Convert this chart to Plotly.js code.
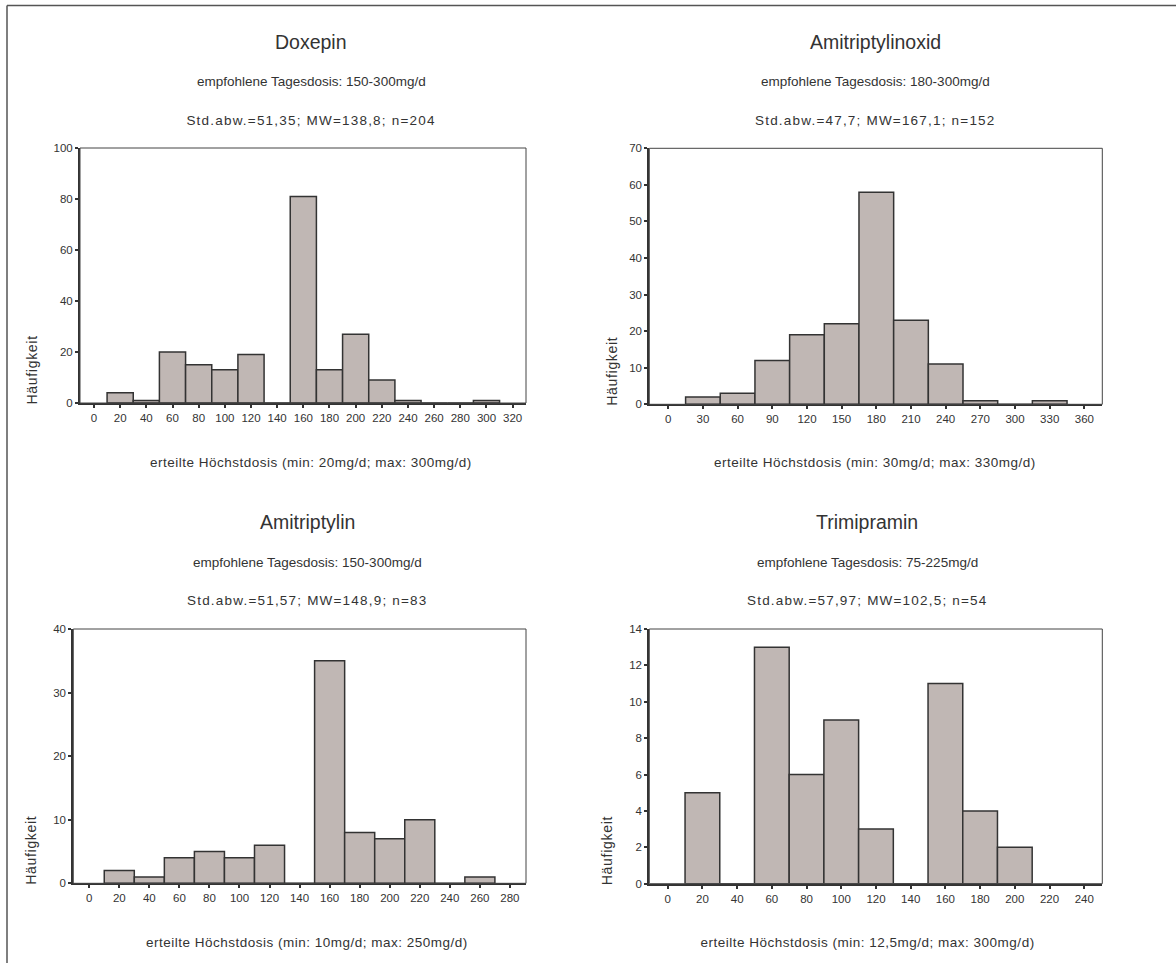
<!DOCTYPE html>
<html><head><meta charset="utf-8">
<script src="https://cdn.plot.ly/plotly-3.0.1.min.js"></script>
<style>html,body{margin:0;padding:0;background:#fff}#chart{width:1176px;height:963px}
g.annotation.stat text{letter-spacing:1.2px}
g.annotation.xt text{letter-spacing:0.5px}
g.annotation.hy text{letter-spacing:0.7px}
</style>
</head><body><div id="chart"></div>
<script>
// Doxepin
const doxBins = [20,40,60,80,100,120,140,160,180,200,220,240,260,280,300];
const doxCounts = [4,1,20,15,13,19,0,81,13,27,9,1,0,0,1];
// Amitriptylinoxid
const amoBins = [30,60,90,120,150,180,210,240,270,300,330];
const amoCounts = [2,3,12,19,22,58,23,11,1,0,1];
// Amitriptylin
const amiBins = [20,40,60,80,100,120,140,160,180,200,220,240,260];
const amiCounts = [2,1,4,5,4,6,0,35,8,7,10,0,1];
// Trimipramin
const triBins = [20,40,60,80,100,120,140,160,180,200];
const triCounts = [5,0,13,6,9,3,0,11,4,2];

const names = ["Doxepin","Amitriptylinoxid","Amitriptylin","Trimipramin"];
const recommended = ["empfohlene Tagesdosis: 150-300mg/d","empfohlene Tagesdosis: 180-300mg/d","empfohlene Tagesdosis: 150-300mg/d","empfohlene Tagesdosis: 75-225mg/d"];
const stats = ["Std.abw.=51,35; MW=138,8; n=204","Std.abw.=47,7; MW=167,1; n=152","Std.abw.=51,57; MW=148,9; n=83","Std.abw.=57,97; MW=102,5; n=54"];
const xTitles = ["erteilte Höchstdosis (min: 20mg/d; max: 300mg/d)","erteilte Höchstdosis (min: 30mg/d; max: 330mg/d)","erteilte Höchstdosis (min: 10mg/d; max: 250mg/d)","erteilte Höchstdosis (min: 12,5mg/d; max: 300mg/d)"];
const yLabel = "Häufigkeit";

const W = 1176, H = 963;
const font = "Liberation Sans, Arial, sans-serif";
const txt = "#333333";

const panels = [
  {bins: doxBins, counts: doxCounts, bw: 20, px:[80,526], py:[148,403], xr:[-10.7,330.2], yr:[0,100], ydt:20, xdt:20, xmax:320, cx:311, ty:[42,82,120,462], hx:32},
  {bins: amoBins, counts: amoCounts, bw: 30, px:[649.3,1102.3], py:[148.3,404.3], xr:[-16.4,375.5], yr:[0,70], ydt:10, xdt:30, xmax:360, cx:875, ty:[42,82,120,462], hx:612},
  {bins: amiBins, counts: amiCounts, bw: 20, px:[73.3,526], py:[629,883.3], xr:[-10.6,290.7], yr:[0,40], ydt:10, xdt:20, xmax:280, cx:307, ty:[522,562,600,942], hx:31},
  {bins: triBins, counts: triCounts, bw: 20, px:[649.3,1102.3], py:[629,883.7], xr:[-10.6,250.4], yr:[0,14], ydt:2, xdt:20, xmax:240, cx:867, ty:[522,562,600,942], hx:607}
];

const data = [];
const layout = {
  width: W, height: H, margin:{l:0,r:0,t:0,b:0},
  paper_bgcolor:"#fff", plot_bgcolor:"#fff", showlegend:false,
  font:{family:font, color:txt, size:11},
  annotations:[], shapes:[]
};
const annClass = [];

panels.forEach((p,i)=>{
  const k = i===0 ? "" : String(i+1);
  data.push({type:"bar", x:p.bins, y:p.counts, width:p.bw, xaxis:"x"+k, yaxis:"y"+k,
    marker:{color:"#c0b7b4", line:{color:"#333333", width:1.5}}, hoverinfo:"x+y"});
  const tv = [];
  for (let v=0; v<=p.xmax; v+=p.xdt) tv.push(v);
  layout["xaxis"+k] = {domain:[p.px[0]/W, p.px[1]/W], range:p.xr, anchor:"y"+k,
    tickvals:tv, ticks:"outside", ticklen:3, tickwidth:2, tickcolor:"#333",
    showline:true, linecolor:"#333", linewidth:2, showgrid:false, zeroline:false,
    tickfont:{size:11.5, color:txt, family:font}, fixedrange:true};
  layout["yaxis"+k] = {domain:[1-p.py[1]/H, 1-p.py[0]/H], range:p.yr, anchor:"x"+k,
    dtick:p.ydt, tick0:0, ticks:"outside", ticklen:3, tickwidth:2, tickcolor:"#333",
    showline:true, linecolor:"#333", linewidth:2, showgrid:false, zeroline:false,
    tickfont:{size:11.5, color:txt, family:font}, fixedrange:true};
  layout.shapes.push({type:"rect", xref:"x"+k+" domain", yref:"y"+k+" domain", x0:0,x1:1,y0:0,y1:1,
    line:{color:"#444", width:1}, fillcolor:"rgba(0,0,0,0)", layer:"above"});
  const lines = [[names[i],19.5,"tt"],[recommended[i],13.5,"rec"],[stats[i],13.5,"stat"],[xTitles[i],13.5,"xt"]];
  lines.forEach((l,j)=>{
    layout.annotations.push({xref:"paper", yref:"paper", x:p.cx/W, y:1-p.ty[j]/H,
      text:l[0], showarrow:false, xanchor:"center", yanchor:"middle",
      font:{size:l[1], color:txt, family:font}});
    annClass.push(l[2]);
  });
  layout.annotations.push({xref:"paper", yref:"paper", x:p.hx/W, y:1-p.py[1]/H,
    text:yLabel, textangle:-90, showarrow:false, xanchor:"center", yanchor:"bottom",
    font:{size:14, color:txt, family:font}});
  annClass.push("hy");
});

// outer frame (top and left edges)
layout.shapes.push({type:"line", xref:"paper", yref:"paper", x0:7/W, x1:1, y0:1-5.5/H, y1:1-5.5/H, line:{color:"#555", width:1.5}});
layout.shapes.push({type:"line", xref:"paper", yref:"paper", x0:7/W, x1:7/W, y0:0, y1:1-5.5/H, line:{color:"#555", width:1.5}});

Plotly.newPlot("chart", data, layout, {displayModeBar:false, staticPlot:true}).then(gd=>{
  gd.querySelectorAll("g.annotation").forEach(g=>{
    const idx = +g.getAttribute("data-index");
    if (annClass[idx]) g.classList.add(annClass[idx]);
  });
});
</script></body></html>
